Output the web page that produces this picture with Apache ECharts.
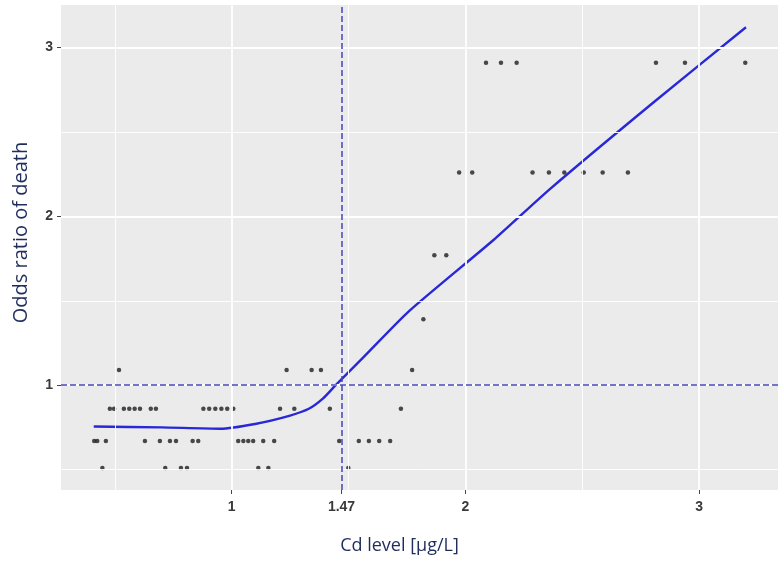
<!DOCTYPE html>
<html>
<head>
<meta charset="utf-8">
<script src="https://cdn.jsdelivr.net/npm/echarts@6/dist/echarts.min.js"></script>
<style>
  html, body { margin: 0; padding: 0; background: #fff; }
  #chart { width: 784px; height: 561px; }
</style>
</head>
<body>
<div id="chart"></div>
<script>
// 坐标轴刻度
const xTicks = [1, 1.47, 2, 3];
const yTicks = [1, 2, 3];
const xMajorGrid = [1, 2, 3];
const xMinorGrid = [0.5, 1.5, 2.5];
const yMajorGrid = [1, 2, 3];
const yMinorGrid = [0.5, 1.5, 2.5];
const cutCd = 1.47;   // 竖虚线
const refOr = 1;      // 横虚线

// 散点：每个 OR 水平上的 Cd 值
const orLevels = [0.51, 0.67, 0.86, 1.09, 1.39, 1.77, 2.26, 2.91];
const cd051 = [0.447, 0.716, 0.783, 0.809, 1.114, 1.157, 1.499];
const cd067 = [0.412, 0.425, 0.462, 0.629, 0.693, 0.736, 0.762, 0.833, 0.857, 1.028, 1.05, 1.071, 1.092, 1.135, 1.182, 1.46, 1.544, 1.587, 1.631, 1.678];
const cd086 = [0.479, 0.497, 0.539, 0.562, 0.585, 0.608, 0.654, 0.676, 0.879, 0.904, 0.93, 0.956, 0.981, 1.007, 1.207, 1.268, 1.42, 1.724];
const cd109 = [0.518, 1.235, 1.342, 1.382, 1.772];
const cd139 = [1.82];
const cd177 = [1.867, 1.918];
const cd226 = [1.973, 2.029, 2.287, 2.357, 2.423, 2.506, 2.587, 2.695];
const cd291 = [2.088, 2.152, 2.219, 2.815, 2.939, 3.197];
const cdByLevel = [cd051, cd067, cd086, cd109, cd139, cd177, cd226, cd291];

// 拟合曲线
const curveCd = [0.41, 0.7, 0.95, 1.1, 1.25, 1.33, 1.39, 1.445, 1.56, 1.76, 2.12, 2.36, 2.8, 3.2];
const curveOr = [0.755, 0.75, 0.742, 0.77, 0.82, 0.86, 0.92, 1.0, 1.16, 1.44, 1.86, 2.16, 2.67, 3.12];

let scatterData = [];
cdByLevel.forEach(function (arr, i) {
    arr.forEach(function (cd) { scatterData.push([cd, orLevels[i]]); });
});
let curveData = curveCd.map(function (cd, i) { return [cd, curveOr[i]]; });

// 网格线
let gridLines = [];
xMajorGrid.forEach(function (v) { gridLines.push({ xAxis: v, lineStyle: { width: 1.8 } }); });
xMinorGrid.forEach(function (v) { gridLines.push({ xAxis: v, lineStyle: { width: 0.9 } }); });
yMajorGrid.forEach(function (v) { gridLines.push({ yAxis: v, lineStyle: { width: 1.8 } }); });
yMinorGrid.forEach(function (v) { gridLines.push({ yAxis: v, lineStyle: { width: 0.9 } }); });

let myChart = echarts.init(document.getElementById('chart'));
let tickLabel = { fontFamily: 'Liberation Sans', fontWeight: 'bold', fontSize: 14, color: '#3a3a3a' };

let option = {
    animation: false,
    grid: {
        left: 61, right: 6, top: 5, bottom: 71,
        show: true, backgroundColor: '#ebebeb', borderWidth: 0
    },
    xAxis: {
        type: 'value',
        min: 0.27, max: 3.337,
        name: 'Cd level [μg/L]',
        nameLocation: 'middle',
        nameGap: 47,
        nameTextStyle: { fontFamily: 'Open Sans', fontSize: 18, color: '#1f2d5c', padding: [0, 40, 0, 0] },
        axisLine: { show: false },
        splitLine: { show: false },
        axisTick: { show: true, customValues: xTicks, length: 4, lineStyle: { color: '#444' } },
        axisLabel: Object.assign({ customValues: xTicks, margin: 10 }, tickLabel)
    },
    yAxis: {
        type: 'value',
        min: 0.379, max: 3.252,
        name: 'Odds ratio of death',
        nameLocation: 'middle',
        nameGap: 30,
        nameTextStyle: { fontFamily: 'Open Sans', fontSize: 20, color: '#1f2d5c', padding: [0, 0, 0, 30] },
        axisLine: { show: false },
        splitLine: { show: false },
        axisTick: { show: true, customValues: yTicks, length: 4, lineStyle: { color: '#444' } },
        axisLabel: Object.assign({ customValues: yTicks, margin: 8 }, tickLabel)
    },
    series: [
        {
            type: 'line',
            data: [],
            z: 1,
            silent: true,
            markLine: {
                silent: true,
                symbol: 'none',
                label: { show: false },
                lineStyle: { color: '#ffffff', type: 'solid' },
                data: gridLines
            }
        },
        {
            type: 'line',
            data: [],
            z: 2,
            silent: true,
            markLine: {
                silent: true,
                symbol: 'none',
                label: { show: false },
                lineStyle: { color: '#4545bb', type: [6, 3], width: 1.5 },
                data: [{ xAxis: cutCd }, { yAxis: refOr }]
            }
        },
        {
            type: 'scatter',
            data: scatterData,
            z: 3,
            symbolSize: 4.5,
            itemStyle: { color: '#1e1e1e' }
        },
        {
            type: 'line',
            data: curveData,
            z: 4,
            smooth: 0.2,
            showSymbol: false,
            lineStyle: { color: '#2828d8', width: 2.4 }
        }
    ]
};
myChart.setOption(option, true);
window.addEventListener('resize', myChart.resize);
</script>
</body>
</html>
